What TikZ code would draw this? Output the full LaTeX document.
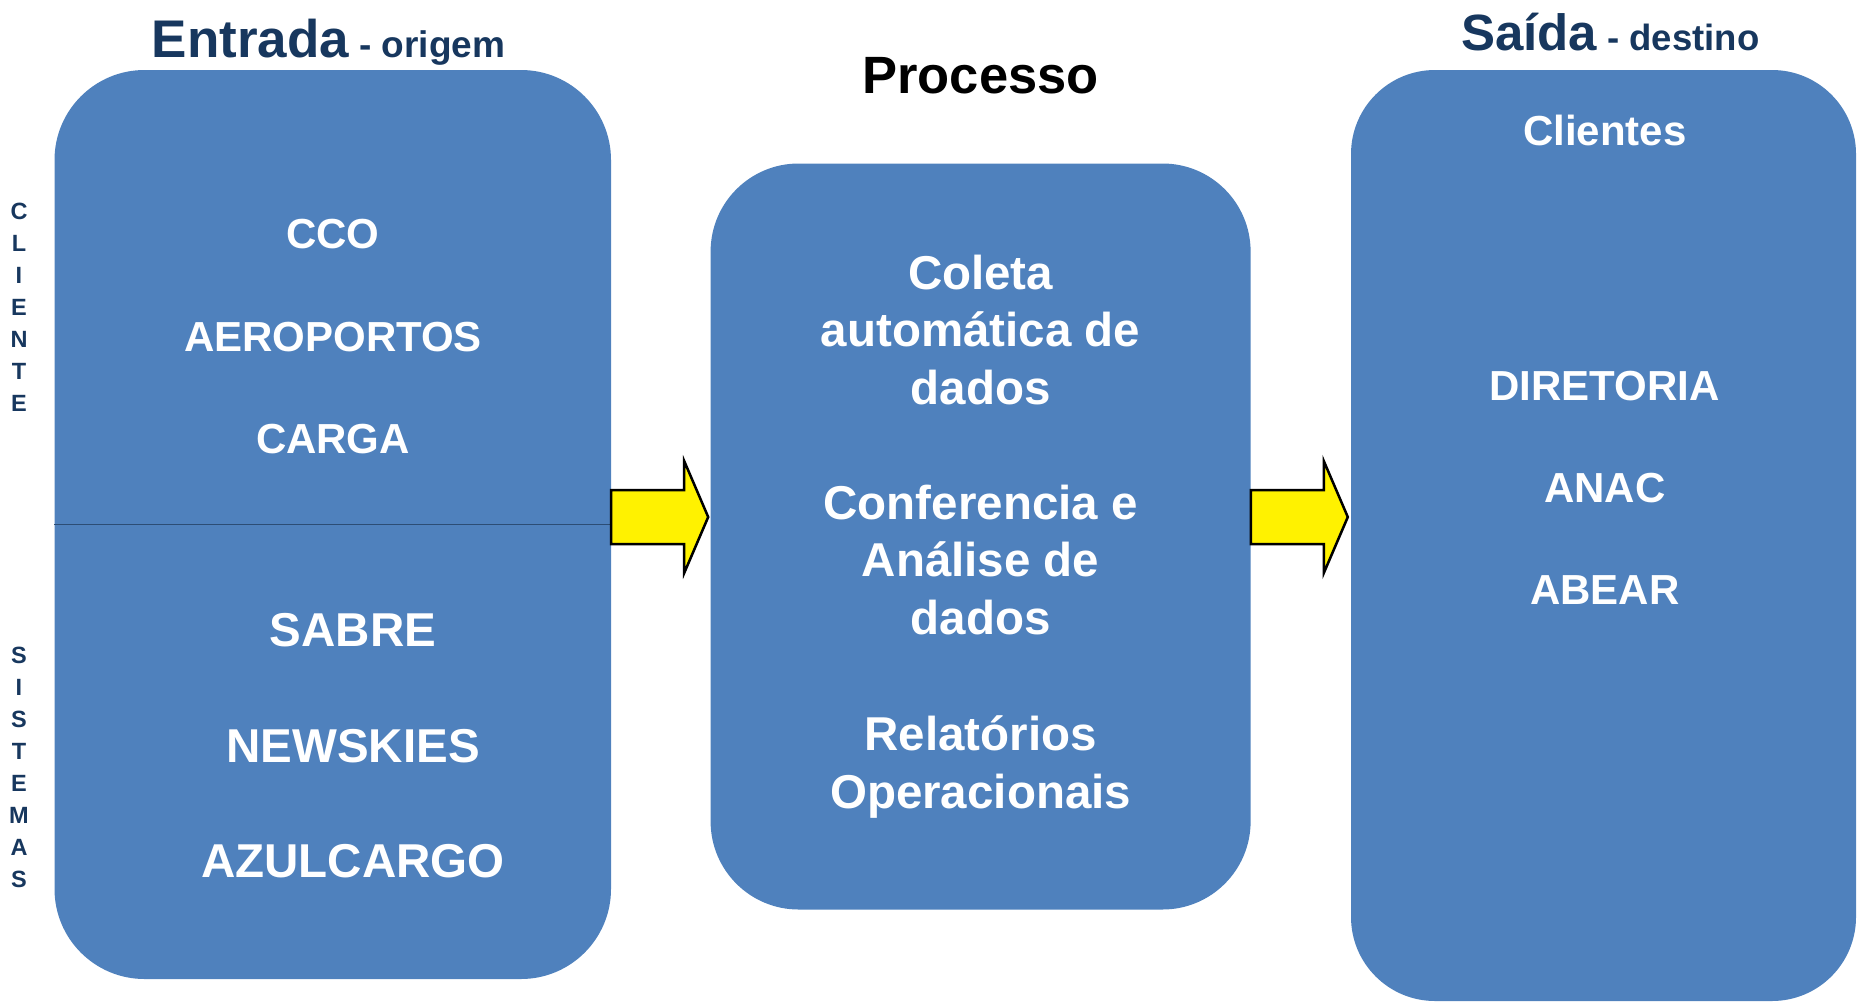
\documentclass[tikz,border=0pt]{standalone}
\usepackage{fontspec}
\setmainfont{Liberation Sans}
\usepackage{tikz}
\usetikzlibrary{positioning}
\definecolor{boxblue}{HTML}{4F81BD}
\definecolor{navy}{HTML}{17375E}
\definecolor{divline}{HTML}{2C4D75}
\tikzset{blockbox/.style={fill=boxblue,draw=none,rectangle,inner sep=0},
    boxtext/.style={text=white,font=\bfseries\fontsize{42}{50}\selectfont},
    bigtext/.style={text=white,align=center,font=\bfseries\fontsize{47.5}{57.5}\selectfont},
    sidelabel/.style={text=navy,align=center,inner sep=0,font=\bfseries\fontsize{23.5}{32}\selectfont},
    fatarrow/.style={fill=yellow,draw=black,line width=2.5pt,line join=miter},
    divider/.style={draw=divline,line width=1.5pt}}

\newcommand{\fatarrowfrom}[1]{%
  \draw [fatarrow] (#1) ++(0,-27) -- ++(73,0) -- ++(0,-29) -- ++(24,56)
    -- ++(-24,56) -- ++(0,-29) -- ++(-73,0) -- cycle;}

\begin{document}
\begin{tikzpicture}[x=1pt,y=-1pt]

\useasboundingbox (0,0) rectangle (1857,1002);

% the three blocks

\node (inbox) at (332.75,524.5) [blockbox,rounded corners=90pt,minimum width=556.5pt,minimum height=909pt] {};
\node (procbox) at (980.6,536.5) [blockbox,rounded corners=88pt,minimum width=540pt,minimum height=746pt] {};
\node (outbox) at (1603.5,535.5) [blockbox,rounded corners=84pt,minimum width=505pt,minimum height=931pt] {};

\draw [divider] (inbox.west) -- (inbox.east);

% titles

\node (entrada) at (151.6,57) [anchor=base west,inner sep=0,text=navy,font=\bfseries]
    {{\fontsize{53}{60}\selectfont Entrada}{\fontsize{37}{44}\selectfont\ - origem}};
\node (processo) at (980.6,93) [anchor=base,inner sep=0,text=black,font=\bfseries\fontsize{52.5}{60}\selectfont] {Processo};
\node (saida) at (1461,50) [anchor=base west,inner sep=0,text=navy,font=\bfseries]
    {{\fontsize{51}{60}\selectfont Saída}{\fontsize{36.5}{44}\selectfont\ - destino}};

% side labels

\node (cliente) at (19,307.5) [sidelabel] {C\\L\\I\\E\\N\\T\\E};
\node (sistemas) at (19,767) [sidelabel] {S\\I\\S\\T\\E\\M\\A\\S};

% entrada

\foreach \y/\name/\txt in {234.5/cco/CCO, 337.5/aero/AEROPORTOS, 439.4/carga/CARGA}
    \node (\name) at (333,\y) [boxtext] {\txt};

\foreach \y/\name/\txt in {630/sabre/SABRE, 746/newskies/NEWSKIES, 861/azul/AZULCARGO}
    \node (\name) at (353,\y) [boxtext,font=\bfseries\fontsize{47.5}{57}\selectfont] {\txt};

% processo

\node (coleta) at (980.6,330) [bigtext] {Coleta\\automática de\\dados};
\node (conf) at (980.6,560) [bigtext] {Conferencia e\\Análise de\\dados};
\node (relat) at (980.6,767) [bigtext] {Relatórios\\Operacionais};

% saida

\foreach \y/\name/\txt in {130/clientes/Clientes, 386/diretoria/DIRETORIA, 488/anac/ANAC, 590/abear/ABEAR}
    \node (\name) at (1604.7,\y) [boxtext] {\txt};

% arrows

\coordinate (arrowrow) at (0,517);
\fatarrowfrom{inbox.east |- arrowrow}
\fatarrowfrom{procbox.east |- arrowrow}

\end{tikzpicture}
\end{document}
